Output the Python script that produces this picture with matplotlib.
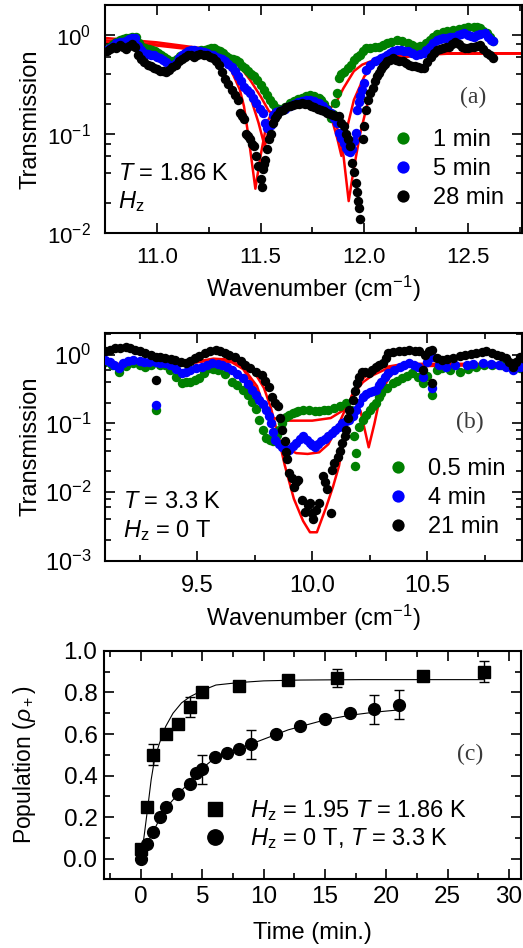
import numpy as np
import matplotlib
matplotlib.use("Agg")
import matplotlib.pyplot as plt
from matplotlib.ticker import LogLocator, MultipleLocator, NullFormatter, FormatStrFormatter

plt.rcParams['font.family'] = ['Liberation Sans', 'DejaVu Sans']
plt.rcParams['mathtext.fontset'] = 'custom'
plt.rcParams['mathtext.rm'] = 'Liberation Sans'
plt.rcParams['mathtext.it'] = 'Liberation Sans:italic'
plt.rcParams['mathtext.bf'] = 'Liberation Sans:bold'

# ---------------- panel (a): H_z, T = 1.86 K ----------------
wn_a_28 = [10.76, 10.775, 10.79, 10.805, 10.82, 10.835, 10.85, 10.865, 10.88, 10.895, 10.91, 10.925,
           10.94, 10.955, 10.97, 10.985, 11.00, 11.015, 11.03, 11.045, 11.06, 11.075, 11.09, 11.105,
           11.12, 11.135, 11.15, 11.165, 11.18, 11.195, 11.21, 11.225, 11.24, 11.255, 11.27, 11.285,
           11.30, 11.315, 11.33, 11.345, 11.36, 11.375, 11.39, 11.40, 11.41, 11.42, 11.43, 11.44,
           11.45, 11.46, 11.47, 11.48, 11.49, 11.50, 11.505, 11.51, 11.515, 11.52, 11.53, 11.54,
           11.55, 11.56, 11.57, 11.58, 11.595, 11.61, 11.625, 11.64, 11.655, 11.67, 11.685, 11.70,
           11.715, 11.73, 11.745, 11.76, 11.775, 11.79, 11.805, 11.82, 11.835, 11.85, 11.865, 11.88,
           11.89, 11.90, 11.91, 11.92, 11.93, 11.94, 11.95, 11.96, 11.965, 11.97, 11.975, 11.98,
           11.995, 12.00, 12.01, 12.02, 12.03, 12.04, 12.05, 12.06, 12.07, 12.08, 12.09, 12.10,
           12.11, 12.125, 12.14, 12.155, 12.17, 12.185, 12.20, 12.215, 12.23, 12.245, 12.26, 12.275,
           12.29, 12.305, 12.32, 12.335, 12.35, 12.365, 12.38, 12.395, 12.41, 12.425, 12.44, 12.455,
           12.47, 12.485, 12.50, 12.515, 12.53, 12.545, 12.56, 12.575, 12.59, 12.605, 12.62]
tr_a_28 = [0.68, 0.72, 0.76, 0.74, 0.79, 0.75, 0.72, 0.78, 0.80, 0.76, 0.62, 0.57,
           0.53, 0.50, 0.48, 0.46, 0.45, 0.43, 0.43, 0.42, 0.44, 0.47, 0.50, 0.55,
           0.57, 0.60, 0.62, 0.63, 0.60, 0.62, 0.64, 0.63, 0.62, 0.60, 0.58, 0.54,
           0.50, 0.42, 0.36, 0.32, 0.28, 0.25, 0.22, 0.163, 0.15, 0.14, 0.10, 0.095,
           0.088, 0.080, 0.075, 0.060, 0.047, 0.035, 0.029, 0.044, 0.050, 0.055, 0.070, 0.088,
           0.10, 0.129, 0.145, 0.157, 0.17, 0.176, 0.185, 0.19, 0.195, 0.20, 0.20, 0.205,
           0.20, 0.20, 0.19, 0.185, 0.18, 0.176, 0.17, 0.163, 0.16, 0.155, 0.15, 0.15,
           0.13, 0.12, 0.10, 0.088, 0.075, 0.051, 0.041, 0.032, 0.026, 0.021, 0.018, 0.014,
           0.088, 0.12, 0.176, 0.22, 0.26, 0.29, 0.34, 0.38, 0.41, 0.45, 0.48, 0.51,
           0.54, 0.56, 0.58, 0.56, 0.55, 0.54, 0.52, 0.50, 0.49, 0.48, 0.47, 0.46,
           0.46, 0.53, 0.60, 0.66, 0.70, 0.72, 0.74, 0.75, 0.76, 0.80, 0.84, 0.80,
           0.76, 0.74, 0.74, 0.75, 0.76, 0.78, 0.79, 0.72, 0.65, 0.62, 0.58]

wn_a_5 = [10.76, 10.775, 10.79, 10.805, 10.82, 10.835, 10.85, 10.865, 10.88, 10.895, 10.91, 10.925,
          10.94, 10.955, 10.97, 10.985, 11.00, 11.015, 11.03, 11.045, 11.06, 11.075, 11.09, 11.105,
          11.12, 11.135, 11.15, 11.165, 11.18, 11.195, 11.21, 11.225, 11.24, 11.255, 11.27, 11.285,
          11.30, 11.315, 11.33, 11.345, 11.36, 11.375, 11.39, 11.405, 11.42, 11.435, 11.45, 11.465,
          11.48, 11.495, 11.51, 11.52, 11.53, 11.54, 11.55, 11.56, 11.575, 11.59, 11.605, 11.62,
          11.64, 11.66, 11.68, 11.70, 11.72, 11.74, 11.76, 11.78, 11.80, 11.82, 11.84, 11.855,
          11.87, 11.88, 11.89, 11.90, 11.91, 11.92, 11.93, 11.94, 11.95, 11.96, 11.965, 11.975,
          11.98, 11.99, 12.00, 12.01, 12.03, 12.05, 12.065, 12.08, 12.095, 12.11, 12.125, 12.14,
          12.16, 12.175, 12.19, 12.21, 12.23, 12.25, 12.27, 12.29, 12.30, 12.315, 12.33, 12.35,
          12.365, 12.38, 12.40, 12.415, 12.43, 12.45, 12.465, 12.48, 12.50, 12.515, 12.53, 12.545,
          12.56, 12.58, 12.595, 12.61, 12.62]
tr_a_5 = [0.71, 0.74, 0.78, 0.82, 0.84, 0.85, 0.86, 0.90, 0.92, 0.93, 0.78, 0.70,
          0.65, 0.64, 0.63, 0.62, 0.60, 0.58, 0.56, 0.53, 0.50, 0.48, 0.52, 0.58,
          0.62, 0.66, 0.69, 0.71, 0.70, 0.69, 0.68, 0.67, 0.65, 0.63, 0.62, 0.60,
          0.58, 0.57, 0.55, 0.51, 0.47, 0.43, 0.38, 0.34, 0.30, 0.28, 0.26, 0.23,
          0.205, 0.18, 0.163, 0.13, 0.115, 0.12, 0.124, 0.157, 0.165, 0.172, 0.176, 0.18,
          0.19, 0.20, 0.21, 0.213, 0.22, 0.22, 0.215, 0.205, 0.19, 0.175, 0.163, 0.145,
          0.13, 0.102, 0.09, 0.081, 0.072, 0.067, 0.065, 0.070, 0.085, 0.102, 0.176, 0.21,
          0.239, 0.28, 0.326, 0.444, 0.50, 0.539, 0.56, 0.58, 0.60, 0.63, 0.66, 0.68,
          0.71, 0.70, 0.69, 0.68, 0.65, 0.63, 0.64, 0.65, 0.70, 0.76, 0.82, 0.88,
          0.91, 0.93, 0.94, 0.95, 0.96, 1.00, 1.02, 1.04, 1.00, 0.97, 0.96, 0.99,
          1.02, 1.04, 0.95, 0.89, 0.86]

wn_a_1 = [10.76, 10.775, 10.79, 10.805, 10.82, 10.835, 10.85, 10.865, 10.88, 10.90, 10.915, 10.93,
          10.945, 10.96, 10.975, 10.99, 11.005, 11.02, 11.035, 11.05, 11.065, 11.08, 11.095, 11.11,
          11.125, 11.14, 11.155, 11.17, 11.185, 11.20, 11.215, 11.23, 11.245, 11.26, 11.275, 11.29,
          11.305, 11.32, 11.335, 11.35, 11.365, 11.38, 11.395, 11.41, 11.425, 11.44, 11.455, 11.47,
          11.485, 11.50, 11.515, 11.53, 11.545, 11.56, 11.575, 11.59, 11.605, 11.62, 11.64, 11.66,
          11.68, 11.70, 11.72, 11.74, 11.76, 11.78, 11.79, 11.805, 11.82, 11.83, 11.84, 11.85,
          11.86, 11.87, 11.88, 11.89, 11.90, 11.92, 11.935, 11.95, 11.965, 11.98, 11.995, 12.01,
          12.03, 12.05, 12.07, 12.09, 12.11, 12.13, 12.16, 12.18, 12.21, 12.23, 12.25, 12.27,
          12.30, 12.315, 12.33, 12.35, 12.38, 12.40, 12.43, 12.455, 12.48, 12.50, 12.53, 12.545,
          12.56, 12.575, 12.59, 12.605, 12.62]
tr_a_1 = [0.71, 0.76, 0.80, 0.84, 0.88, 0.90, 0.93, 0.94, 0.95, 0.96, 0.82, 0.76,
          0.73, 0.72, 0.71, 0.68, 0.65, 0.62, 0.60, 0.57, 0.55, 0.54, 0.57, 0.61,
          0.63, 0.65, 0.66, 0.67, 0.68, 0.69, 0.70, 0.71, 0.72, 0.73, 0.73, 0.71,
          0.68, 0.65, 0.61, 0.58, 0.57, 0.56, 0.53, 0.49, 0.46, 0.43, 0.40, 0.38,
          0.35, 0.31, 0.28, 0.25, 0.222, 0.20, 0.183, 0.178, 0.176, 0.185, 0.205, 0.215,
          0.225, 0.23, 0.24, 0.25, 0.24, 0.23, 0.222, 0.20, 0.18, 0.163, 0.145, 0.16,
          0.205, 0.26, 0.37, 0.40, 0.42, 0.46, 0.50, 0.56, 0.60, 0.63, 0.68, 0.73,
          0.74, 0.75, 0.76, 0.79, 0.82, 0.85, 0.89, 0.86, 0.82, 0.79, 0.76, 0.78,
          0.82, 0.89, 0.96, 1.02, 1.08, 1.10, 1.12, 1.15, 1.17, 1.19, 1.21, 1.19,
          1.17, 1.10, 1.04, 0.95, 0.86]

# fitted curves (a)
fit_wn_a_1 = [10.75, 11.00, 11.20, 11.30, 11.35, 11.40, 11.45, 11.50, 11.54, 11.56, 11.58, 11.65,
              11.75, 11.82, 11.84, 11.87, 11.90, 11.95, 11.99, 12.05, 12.12, 12.20, 12.30, 12.40, 12.75]
fit_tr_a_1 = [0.93, 0.84, 0.74, 0.66, 0.58, 0.48, 0.35, 0.24, 0.17, 0.16, 0.18, 0.195,
              0.195, 0.19, 0.185, 0.22, 0.29, 0.43, 0.50, 0.56, 0.60, 0.63, 0.645, 0.65, 0.65]
fit_wn_a_5 = [10.75, 11.00, 11.20, 11.30, 11.35, 11.40, 11.45, 11.49, 11.52, 11.54, 11.56, 11.60,
              11.70, 11.80, 11.84, 11.87, 11.89, 11.91, 11.95, 12.00, 12.05, 12.10, 12.20, 12.40, 12.75]
fit_tr_a_5 = [0.88, 0.80, 0.72, 0.64, 0.55, 0.40, 0.24, 0.13, 0.075, 0.11, 0.16, 0.19,
              0.195, 0.185, 0.15, 0.09, 0.06, 0.10, 0.22, 0.38, 0.50, 0.57, 0.62, 0.65, 0.65]
fit_wn_a_28 = [10.75, 11.00, 11.20, 11.30, 11.35, 11.40, 11.42, 11.44, 11.475, 11.50, 11.53, 11.56,
               11.60, 11.70, 11.80, 11.86, 11.90, 11.925, 11.95, 11.98, 12.02, 12.06, 12.10, 12.15,
               12.25, 12.40, 12.75]
fit_tr_a_28 = [0.84, 0.78, 0.70, 0.62, 0.48, 0.28, 0.19, 0.10, 0.028, 0.06, 0.13, 0.17,
               0.19, 0.195, 0.185, 0.14, 0.06, 0.021, 0.045, 0.10, 0.22, 0.38, 0.50, 0.57,
               0.62, 0.645, 0.65]

# ---------------- panel (b): H_z = 0 T, T = 3.3 K ----------------
wn_b_21 = [9.10, 9.12, 9.145, 9.165, 9.19, 9.21, 9.23, 9.25, 9.275, 9.30, 9.32, 9.32,
           9.34, 9.36, 9.385, 9.405, 9.43, 9.45, 9.47, 9.49, 9.51, 9.535, 9.555, 9.58,
           9.60, 9.62, 9.64, 9.665, 9.69, 9.71, 9.73, 9.755, 9.78, 9.795, 9.81, 9.825,
           9.84, 9.85, 9.86, 9.87, 9.88, 9.885, 9.89, 9.90, 9.91, 9.92, 9.93, 9.94,
           9.955, 9.97, 9.98, 9.99, 10.00, 10.005, 10.015, 10.03, 10.045, 10.055, 10.065, 10.08,
           10.085, 10.095, 10.11, 10.12, 10.13, 10.14, 10.145, 10.155, 10.16, 10.175, 10.185, 10.195,
           10.205, 10.215, 10.23, 10.245, 10.26, 10.275, 10.29, 10.305, 10.32, 10.33, 10.35, 10.375,
           10.40, 10.42, 10.445, 10.465, 10.48, 10.49, 10.505, 10.52, 10.52, 10.54, 10.565, 10.585,
           10.61, 10.64, 10.665, 10.69, 10.71, 10.735, 10.755, 10.78, 10.80, 10.82, 10.84, 10.855,
           10.87, 10.885, 10.90]
tr_b_21 = [1.12, 1.18, 1.25, 1.28, 1.32, 1.25, 1.18, 1.12, 1.06, 1.0, 0.946, 0.43,
           0.92, 0.894, 0.87, 0.846, 0.80, 0.756, 0.82, 0.894, 0.97, 1.06, 1.12, 1.18,
           1.12, 1.06, 1.0, 0.946, 0.82, 0.715, 0.64, 0.572, 0.511, 0.42, 0.345, 0.247,
           0.20, 0.177, 0.12, 0.081, 0.055, 0.039, 0.030, 0.019, 0.016, 0.012, 0.014, 0.015,
           0.0078, 0.0052, 0.0065, 0.0069, 0.0050, 0.0040, 0.0055, 0.0069, 0.017, 0.014, 0.011, 0.0049,
           0.021, 0.027, 0.033, 0.040, 0.052, 0.065, 0.081, 0.12, 0.158, 0.221, 0.30, 0.386,
           0.48, 0.572, 0.56, 0.541, 0.60, 0.676, 0.72, 0.756, 0.90, 1.06, 1.10, 1.12,
           1.15, 1.18, 1.15, 1.12, 0.604, 1.0, 1.12, 1.18, 0.39, 0.90, 0.846, 0.87,
           0.894, 0.95, 1.0, 1.03, 1.06, 1.09, 1.12, 1.05, 1.0, 0.95, 0.894, 0.80,
           0.676, 0.80, 0.946]

wn_b_4 = [9.10, 9.12, 9.14, 9.16, 9.18, 9.20, 9.22, 9.25, 9.27, 9.29, 9.32, 9.32,
          9.34, 9.36, 9.38, 9.41, 9.435, 9.45, 9.47, 9.495, 9.52, 9.545, 9.565, 9.59,
          9.61, 9.63, 9.65, 9.675, 9.70, 9.72, 9.74, 9.755, 9.77, 9.785, 9.80, 9.81,
          9.82, 9.83, 9.84, 9.855, 9.87, 9.885, 9.90, 9.915, 9.93, 9.945, 9.96, 9.975,
          9.99, 10.00, 10.01, 10.025, 10.04, 10.055, 10.07, 10.085, 10.10, 10.115, 10.13, 10.145,
          10.16, 10.175, 10.19, 10.205, 10.22, 10.235, 10.25, 10.265, 10.275, 10.29, 10.30, 10.315,
          10.33, 10.355, 10.38, 10.40, 10.42, 10.44, 10.46, 10.48, 10.50, 10.52, 10.52, 10.55,
          10.58, 10.62, 10.67, 10.70, 10.74, 10.775, 10.81, 10.84, 10.87, 10.90]
tr_b_4 = [0.846, 0.80, 0.72, 0.639, 0.75, 0.82, 0.846, 0.82, 0.80, 0.80, 0.187, 0.78,
          0.77, 0.756, 0.70, 0.62, 0.541, 0.57, 0.604, 0.64, 0.676, 0.72, 0.756, 0.74,
          0.715, 0.66, 0.604, 0.53, 0.457, 0.38, 0.309, 0.26, 0.221, 0.19, 0.158, 0.13,
          0.101, 0.075, 0.058, 0.050, 0.046, 0.043, 0.041, 0.047, 0.052, 0.060, 0.065, 0.058,
          0.052, 0.048, 0.046, 0.050, 0.055, 0.060, 0.065, 0.072, 0.081, 0.090, 0.101, 0.107,
          0.113, 0.13, 0.158, 0.20, 0.247, 0.27, 0.292, 0.30, 0.309, 0.36, 0.409, 0.47,
          0.541, 0.61, 0.676, 0.72, 0.756, 0.72, 0.676, 0.483, 0.80, 0.946, 0.327, 0.72,
          0.676, 0.70, 0.715, 0.74, 0.756, 0.73, 0.715, 0.66, 0.604, 0.676]

wn_b_05 = [9.10, 9.13, 9.16, 9.19, 9.22, 9.25, 9.275, 9.30, 9.32, 9.34, 9.36, 9.38,
           9.41, 9.435, 9.45, 9.47, 9.49, 9.51, 9.53, 9.55, 9.57, 9.59, 9.62, 9.65,
           9.675, 9.70, 9.72, 9.74, 9.755, 9.77, 9.785, 9.80, 9.815, 9.83, 9.845, 9.855,
           9.87, 9.885, 9.90, 9.915, 9.93, 9.94, 9.96, 9.985, 10.01, 10.03, 10.05, 10.07,
           10.095, 10.12, 10.145, 10.17, 10.18, 10.19, 10.185, 10.205, 10.22, 10.235, 10.25, 10.265,
           10.275, 10.29, 10.30, 10.325, 10.35, 10.37, 10.39, 10.41, 10.435, 10.46, 10.48, 10.50,
           10.52, 10.54, 10.565, 10.60, 10.64, 10.675, 10.71, 10.745, 10.78, 10.82, 10.855, 10.88,
           10.90]
tr_b_05 = [0.80, 0.70, 0.572, 0.68, 0.756, 0.72, 0.676, 0.70, 0.158, 0.71, 0.715, 0.60,
           0.48, 0.386, 0.40, 0.409, 0.43, 0.457, 0.55, 0.639, 0.62, 0.604, 0.52, 0.409,
           0.36, 0.309, 0.26, 0.209, 0.16, 0.113, 0.080, 0.061, 0.058, 0.055, 0.068, 0.081,
           0.10, 0.126, 0.135, 0.141, 0.146, 0.150, 0.155, 0.158, 0.152, 0.150, 0.155, 0.158,
           0.168, 0.177, 0.198, 0.158, 0.065, 0.037, 0.024, 0.09, 0.113, 0.135, 0.158, 0.18,
           0.198, 0.24, 0.276, 0.33, 0.386, 0.42, 0.457, 0.50, 0.541, 0.47, 0.386, 0.50,
           0.261, 0.60, 0.639, 0.60, 0.572, 0.62, 0.676, 0.70, 0.715, 0.72, 0.715, 0.68,
           0.639]

# fitted curves (b)
fit_wn_b_05 = [9.10, 9.45, 9.50, 9.57, 9.65, 9.70, 9.76, 9.79, 9.83, 9.90, 10.00, 10.08,
               10.14, 10.18, 10.21, 10.245, 10.27, 10.30, 10.34, 10.40, 10.90]
fit_tr_b_05 = [0.72, 0.72, 0.78, 0.84, 0.78, 0.62, 0.30, 0.17, 0.12, 0.11, 0.11, 0.12,
               0.16, 0.22, 0.15, 0.045, 0.10, 0.30, 0.50, 0.68, 0.72]
fit_wn_b_4 = [9.10, 9.45, 9.50, 9.57, 9.65, 9.70, 9.76, 9.80, 9.84, 9.88, 9.93, 9.98,
              10.03, 10.07, 10.11, 10.15, 10.19, 10.22, 10.26, 10.32, 10.40, 10.90]
fit_tr_b_4 = [0.73, 0.73, 0.79, 0.86, 0.80, 0.65, 0.35, 0.14, 0.07, 0.045, 0.037, 0.036,
              0.038, 0.05, 0.09, 0.18, 0.30, 0.40, 0.50, 0.62, 0.72, 0.73]
fit_wn_b_21 = [9.10, 9.45, 9.50, 9.57, 9.65, 9.70, 9.75, 9.79, 9.82, 9.85, 9.88, 9.92,
               9.96, 9.99, 10.02, 10.06, 10.09, 10.116, 10.145, 10.17, 10.20, 10.25, 10.30,
               10.40, 10.90]
fit_tr_b_21 = [0.74, 0.74, 0.80, 0.88, 0.85, 0.74, 0.55, 0.33, 0.17, 0.07, 0.025, 0.008,
               0.0038, 0.0026, 0.0026, 0.006, 0.012, 0.024, 0.09, 0.25, 0.40, 0.55, 0.65,
               0.74, 0.74]

# ---------------- panel (c): population vs time ----------------
t_sq = [0, 0.5, 1, 2, 3, 4, 5, 8, 12, 16, 23, 28]
p_sq = [0.046, 0.25, 0.50, 0.60, 0.65, 0.73, 0.80, 0.83, 0.86, 0.87, 0.88, 0.90]
e_sq = [0, 0, 0.05, 0, 0, 0.05, 0, 0, 0, 0.045, 0, 0.05]
t_ci = [0, 0.5, 1, 1.5, 2, 3, 4, 4.5, 5, 6, 7, 8, 9, 11, 13, 15, 17, 19, 21]
p_ci = [0.0, 0.07, 0.13, 0.20, 0.25, 0.31, 0.36, 0.41, 0.43, 0.49, 0.51, 0.53, 0.55,
        0.60, 0.64, 0.67, 0.70, 0.72, 0.74]
e_ci = [0, 0, 0, 0, 0, 0, 0, 0, 0.07, 0, 0, 0, 0.07, 0, 0, 0, 0, 0.07, 0.07]
fit_t_sq = [0, 0.27, 0.55, 0.82, 1.1, 1.5, 2.0, 2.6, 3.3, 4.0, 5.0, 6.1, 8.0, 10, 13, 18, 28]
fit_p_sq = [0.0, 0.12, 0.25, 0.38, 0.48, 0.556, 0.636, 0.70, 0.75, 0.78, 0.81, 0.836,
            0.848, 0.856, 0.86, 0.862, 0.862]
fit_t_ci = [0, 0.4, 1, 1.5, 2.05, 3, 4, 5, 6, 8, 10, 12, 15, 17, 19, 21]
fit_p_ci = [0, 0.06, 0.13, 0.19, 0.245, 0.31, 0.37, 0.435, 0.484, 0.53, 0.575, 0.62,
            0.668, 0.69, 0.705, 0.716]

GREEN = '#008000'
BLUE = '#0000ff'
RED = '#ff0000'
LBL = 17
TXT = 17
MS = 6.8


def style_axes(ax, pad, size):
    for s in ax.spines.values():
        s.set_linewidth(1.5)
    ax.tick_params(which='both', direction='in', top=True, right=True, width=1.2,
                   labelsize=size, pad=pad)
    ax.tick_params(which='major', length=7)
    ax.tick_params(which='minor', length=4)


def log_ticks(ax):
    ax.yaxis.set_major_locator(LogLocator(base=10, numticks=10))
    ax.yaxis.set_minor_locator(LogLocator(base=10, subs=(2, 4, 6, 8), numticks=10))
    ax.yaxis.set_minor_formatter(NullFormatter())
    ax.xaxis.set_major_locator(MultipleLocator(0.5))
    ax.xaxis.set_minor_locator(MultipleLocator(0.25))
    ax.xaxis.set_major_formatter(FormatStrFormatter('%.1f'))


fig = plt.figure(figsize=(5.23, 9.48), dpi=100)
ax_a = fig.add_axes([0.2008, 0.7542, 0.797, 0.2405])
ax_b = fig.add_axes([0.2008, 0.4085, 0.797, 0.2405])
ax_c = fig.add_axes([0.1995, 0.0725, 0.797, 0.2408])

# panel (a)
for wn, tr in [(fit_wn_a_1, fit_tr_a_1), (fit_wn_a_5, fit_tr_a_5), (fit_wn_a_28, fit_tr_a_28)]:
    ax_a.plot(wn, tr, color=RED, lw=1.8, zorder=1)
ax_a.plot(wn_a_1, tr_a_1, 'o', color=GREEN, ms=MS, mew=0, label='1 min', zorder=2)
ax_a.plot(wn_a_5, tr_a_5, 'o', color=BLUE, ms=MS, mew=0, label='5 min', zorder=3)
ax_a.plot(wn_a_28, tr_a_28, 'o', color='black', ms=MS, mew=0, label='28 min', zorder=4)
ax_a.set_yscale('log')
ax_a.set_xlim(10.75, 12.76)
ax_a.set_ylim(0.01, 2.0)
log_ticks(ax_a)
style_axes(ax_a, 10, 16)
ax_a.set_ylabel('Transmission', fontsize=LBL)
ax_a.set_xlabel('Wavenumber (cm$^{-1}$)', fontsize=LBL)
ax_a.yaxis.set_label_coords(-0.152, 0.5)
ax_a.xaxis.set_label_coords(0.5, -0.18)
ax_a.text(0.031, 0.232, '$T$ = 1.86 K', transform=ax_a.transAxes, fontsize=TXT)
ax_a.text(0.031, 0.11, r'$H_{\rm z}$', transform=ax_a.transAxes, fontsize=TXT)
ax_a.text(0.882, 0.596, '(a)', transform=ax_a.transAxes, fontsize=TXT, ha='center', va='center',
          family='Liberation Serif', color='#3a3a3a')
ax_a.legend(loc='upper left', bbox_to_anchor=(0.686, 0.456), frameon=False, fontsize=TXT,
            handlelength=1.0, handletextpad=0.8, borderpad=0, borderaxespad=0,
            labelspacing=0.3, markerscale=1.3)

# panel (b)
for wn, tr in [(fit_wn_b_05, fit_tr_b_05), (fit_wn_b_4, fit_tr_b_4), (fit_wn_b_21, fit_tr_b_21)]:
    ax_b.plot(wn, tr, color=RED, lw=1.8, zorder=1)
ax_b.plot(wn_b_05, tr_b_05, 'o', color=GREEN, ms=MS, mew=0, label='0.5 min', zorder=2)
ax_b.plot(wn_b_4, tr_b_4, 'o', color=BLUE, ms=MS, mew=0, label='4 min', zorder=3)
ax_b.plot(wn_b_21, tr_b_21, 'o', color='black', ms=MS, mew=0, label='21 min', zorder=4)
ax_b.set_yscale('log')
ax_b.set_xlim(9.1, 10.91)
ax_b.set_ylim(0.001, 2.1)
log_ticks(ax_b)
style_axes(ax_b, 10, 17)
ax_b.set_ylabel('Transmission', fontsize=LBL)
ax_b.set_xlabel('Wavenumber (cm$^{-1}$)', fontsize=LBL)
ax_b.yaxis.set_label_coords(-0.152, 0.5)
ax_b.xaxis.set_label_coords(0.5, -0.185)
ax_b.text(0.043, 0.231, '$T$ = 3.3 K', transform=ax_b.transAxes, fontsize=TXT)
ax_b.text(0.043, 0.104, r'$H_{\rm z}$ = 0 T', transform=ax_b.transAxes, fontsize=TXT)
ax_b.text(0.875, 0.608, '(b)', transform=ax_b.transAxes, fontsize=TXT, ha='center', va='center',
          family='Liberation Serif', color='#3a3a3a')
ax_b.legend(loc='upper left', bbox_to_anchor=(0.674, 0.451), frameon=False, fontsize=TXT,
            handlelength=1.0, handletextpad=0.8, borderpad=0, borderaxespad=0,
            labelspacing=0.3, markerscale=1.3)

# panel (c)
ax_c.plot(fit_t_sq, fit_p_sq, color='black', lw=0.8, zorder=1)
ax_c.plot(fit_t_ci, fit_p_ci, color='black', lw=0.8, zorder=1)
e_sq_arr = np.array(e_sq)
e_ci_arr = np.array(e_ci)
ax_c.errorbar(t_sq, p_sq, yerr=np.where(e_sq_arr > 0, e_sq_arr, np.nan), fmt='none',
              ecolor='black', capsize=3.5, elinewidth=1, capthick=1, zorder=2)
ax_c.errorbar(t_ci, p_ci, yerr=np.where(e_ci_arr > 0, e_ci_arr, np.nan), fmt='none',
              ecolor='black', capsize=3.5, elinewidth=1, capthick=1, zorder=2)
ax_c.plot(t_sq, p_sq, 's', color='black', ms=8, zorder=3,
          label=r'$H_{\rm z}$ = 1.95 $T$ = 1.86 K')
ax_c.plot(t_ci, p_ci, 'o', color='black', ms=8.5, zorder=3,
          label=r'$H_{\rm z}$ = 0 T, $T$ = 3.3 K')
ax_c.set_xlim(-3, 31)
ax_c.set_ylim(-0.1, 1.0)
ax_c.xaxis.set_major_locator(MultipleLocator(5))
ax_c.xaxis.set_minor_locator(MultipleLocator(2.5))
ax_c.yaxis.set_major_locator(MultipleLocator(0.2))
ax_c.yaxis.set_minor_locator(MultipleLocator(0.1))
ax_c.yaxis.set_major_formatter(FormatStrFormatter('%.1f'))
style_axes(ax_c, 5, 17.5)
ax_c.set_ylabel(r'Population ($\rho_+$)', fontsize=16.5)
ax_c.set_xlabel('Time (min.)', fontsize=LBL)
ax_c.yaxis.set_label_coords(-0.16, 0.5)
ax_c.xaxis.set_label_coords(0.5, -0.187)
ax_c.text(0.878, 0.545, '(c)', transform=ax_c.transAxes, fontsize=TXT, ha='center', va='center',
          family='Liberation Serif', color='#3a3a3a')
ax_c.legend(loc='upper left', bbox_to_anchor=(0.237, 0.357), frameon=False, fontsize=TXT,
            handlelength=1.0, handletextpad=1.0, borderpad=0, borderaxespad=0,
            labelspacing=0.15, markerscale=1.3)

fig.savefig('out.png', dpi=100)
